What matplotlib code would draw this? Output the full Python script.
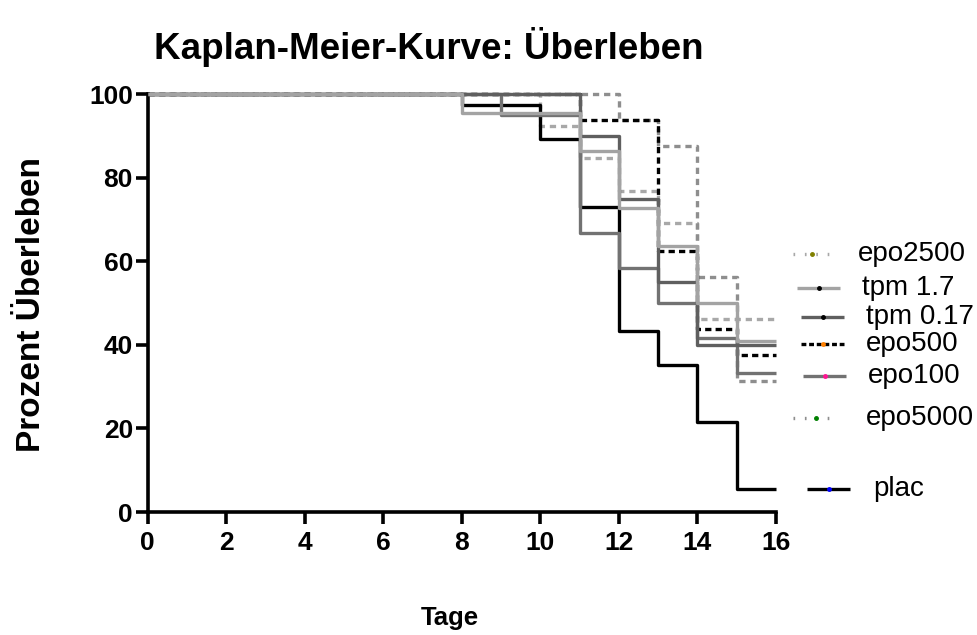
import matplotlib
matplotlib.use("Agg")
import matplotlib.pyplot as plt

plt.rcParams["font.family"] = ["Liberation Sans", "DejaVu Sans"]
plt.rcParams["lines.scale_dashes"] = False

# ── Survival data (percent surviving at each event day) ───────────────────────

plac_days = [0, 8, 10, 11, 12, 13, 14, 15, 16]
plac_surv = [100, 97.3, 89.2, 73.0, 43.2, 35.1, 21.6, 5.4, 5.4]

tpm17_days = [0, 8, 11, 12, 13, 14, 15, 16]
tpm17_surv = [100, 95.5, 86.4, 72.7, 63.6, 50.0, 40.9, 40.9]

tpm017_days = [0, 11, 12, 13, 14, 16]
tpm017_surv = [100, 90.0, 75.0, 55.0, 40.0, 40.0]

epo100_days = [0, 9, 11, 12, 13, 14, 15, 16]
epo100_surv = [100, 95.0, 66.7, 58.3, 50.0, 41.7, 33.3, 33.3]

epo500_days = [0, 11, 13, 14, 15, 16]
epo500_surv = [100, 93.75, 62.5, 43.75, 37.5, 37.5]

epo2500_days = [0, 10, 11, 12, 13, 14, 16]
epo2500_surv = [100, 92.3, 84.6, 76.9, 69.2, 46.2, 46.2]

epo5000_days = [0, 12, 13, 14, 15, 16]
epo5000_surv = [100, 93.75, 87.5, 56.25, 31.25, 31.25]

x_ticks = [0, 2, 4, 6, 8, 10, 12, 14, 16]
y_ticks = [0, 20, 40, 60, 80, 100]

# ── Styles: (days, surv, colour, dashes, legend marker colour, zorder) ─────────

SOLID = None
series = {
    "epo2500":  (epo2500_days, epo2500_surv, "#a8a8a8", (4.5, 3.5), "#808000", 2),
    "tpm 1.7":  (tpm17_days, tpm17_surv, "#a3a3a3", SOLID, "#000000", 7),
    "tpm 0.17": (tpm017_days, tpm017_surv, "#5f5f5f", SOLID, "#000000", 6),
    "epo500":   (epo500_days, epo500_surv, "#000000", (4.5, 3.0), "#ff8000", 4),
    "epo100":   (epo100_days, epo100_surv, "#727272", SOLID, "#ff1493", 5),
    "epo5000":  (epo5000_days, epo5000_surv, "#8e8e8e", (4.5, 3.5), "#008000", 3),
    "plac":     (plac_days, plac_surv, "#000000", SOLID, "#0000ff", 4.5),
}

# legend glyph dashes differ from the curves for the dotted groups
legend_dashes = {"epo2500": (1.2, 7.0), "epo5000": (1.2, 7.0), "epo500": (3.5, 2.0)}

# legend rows in figure pixels: (line x0, line x1, y, text x)
legend_rows = {
    "epo2500":  (793, 830, 254, 858),
    "tpm 1.7":  (797, 840, 288, 862),
    "tpm 0.17": (801, 844, 317, 866),
    "epo500":   (801, 844, 344, 866),
    "epo100":   (803, 846, 376, 868),
    "epo5000":  (793, 838, 418, 866),
    "plac":     (807, 850, 489, 873),
}

W, H = 977, 635
fig = plt.figure(figsize=(W / 100, H / 100), dpi=100)
ax = fig.add_axes([147.5 / W, 1 - 512 / H, (776 - 147.5) / W, (512 - 94) / H])

for name, (days, surv, colour, dashes, _, z) in series.items():
    line, = ax.step(days, surv, where="post", color=colour, linewidth=2.4,
                    zorder=z, clip_on=False, solid_capstyle="butt")
    if dashes:
        line.set_dashes(dashes)

ax.set_xlim(0, 16)
ax.set_ylim(0, 100)
ax.set_xticks(x_ticks)
ax.set_yticks(y_ticks)
for side in ("top", "right"):
    ax.spines[side].set_visible(False)
for side in ("left", "bottom"):
    ax.spines[side].set_linewidth(2.6)
ax.tick_params(direction="out", length=8.5, width=2.6, labelsize=19)
ax.tick_params(axis="x", pad=5)
ax.tick_params(axis="y", pad=2)
for lbl in ax.get_xticklabels() + ax.get_yticklabels():
    lbl.set_fontweight("bold")

fig.text(429 / W, 1 - 47 / H, "Kaplan-Meier-Kurve: Überleben",
         ha="center", va="center", fontsize=26.5, fontweight="bold")
fig.text(32 / W, 1 - 304 / H, "Prozent Überleben", rotation=90,
         ha="center", va="center", fontsize=24, fontweight="bold")
fig.text(450 / W, 1 - 618 / H, "Tage",
         ha="center", va="center", fontsize=18.5, fontweight="bold")

# ── Legend, drawn in pixel space on an overlay ────────────────────────────────

lax = fig.add_axes([0, 0, 1, 1])
lax.set_xlim(0, W)
lax.set_ylim(H, 0)
lax.axis("off")
for name, (x0, x1, y, tx) in legend_rows.items():
    _, _, colour, dashes, mcol, _ = series[name]
    line, = lax.plot([x0, x1], [y, y], color=colour, linewidth=2.4,
                     solid_capstyle="butt")
    d = legend_dashes.get(name, dashes)
    if d:
        line.set_dashes(d)
    lax.plot((x0 + x1) / 2, y, "o", color=mcol, markersize=2.5)
    lax.text(tx, y, name, ha="left", va="center", fontsize=20)

fig.savefig("out.png", dpi=100)
